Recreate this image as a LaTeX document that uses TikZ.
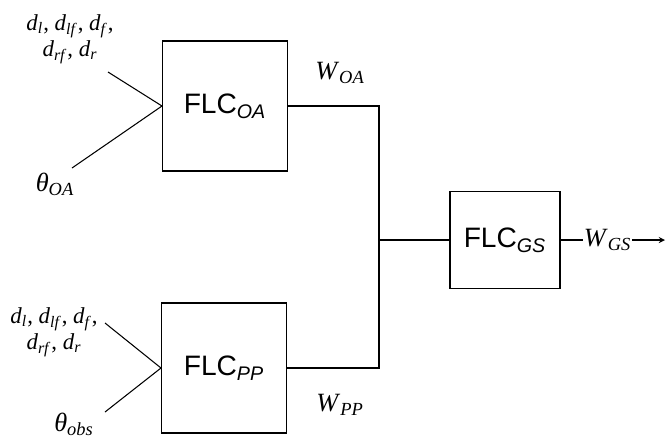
\documentclass[tikz,border=0pt]{standalone}
\usepackage{fontspec}
\setmainfont{Liberation Serif}
\newfontfamily\flcfont{Liberation Sans}
\usepackage{tikz}
\usetikzlibrary{positioning}
% italic symbol with italic subscript, Times style
\newcommand{\vsub}[2]{\textit{#1}\textsubscript{\textit{#2}}}
\newcommand{\flc}[1]{{\flcfont FLC\textsubscript{\itshape #1}}}

\begin{document}
\begin{tikzpicture}[x=0.02cm, y=-0.02cm, line width=0.6pt,
    block/.style={draw, minimum width=2.5cm, minimum height=2.6cm, font=\fontsize{16}{19}\selectfont},
    lbl/.style={font=\fontsize{13}{15}\selectfont, inner sep=1pt},
    sig/.style={font=\fontsize{15}{17}\selectfont, inner sep=1pt}]
      \useasboundingbox (0,0) rectangle (667,441);
      % fuzzy controllers
      \node[block] (oa) at (225,106) {\flc{OA}};
      \node[block] (pp) at (224,368) {\flc{PP}};
      \node[block, minimum width=2.2cm, minimum height=1.94cm] (gs) at (505,240) {\flc{GS}};
      % inputs of FLC_OA
      \node[lbl, align=center] (oadist) at (70,39) {\vsub{d}{l}, \vsub{d}{lf}, \vsub{d}{f},\\ \vsub{d}{rf}, \vsub{d}{r}};
      \node[sig] (oatheta) at (55,184) {\vsub{θ}{OA}};
      \coordinate (oain1) at (108,72);
      \coordinate (oain2) at (72,168);
      \draw (oain1) -- (oa.west);
      \draw (oain2) -- (oa.west);
      % inputs of FLC_PP
      \node[lbl, align=center] (ppdist) at (54,332) {\vsub{d}{l}, \vsub{d}{lf}, \vsub{d}{f},\\ \vsub{d}{rf}, \vsub{d}{r}};
      \node[sig] (pptheta) at (74,424) {\vsub{θ}{obs}};
      \coordinate (ppin1) at (105,323);
      \coordinate (ppin2) at (105,412);
      \draw (ppin1) -- (pp.west);
      \draw (ppin2) -- (pp.west);
      % outputs merged into FLC_GS
      \coordinate (bus) at (379,240);
      \draw (oa.east) -| (bus) |- (pp.east);
      \draw (bus) -- (gs.west);
      \node[sig] (woa) at (340,73) {\vsub{W}{OA}};
      \node[sig] (wpp) at (340,405) {\vsub{W}{PP}};
      % final output
      \coordinate (out) at (665,240);
      \draw[-stealth] (gs.east) -- (out) node[sig, pos=0.45, fill=white, inner sep=0.5pt] (wgs) {\vsub{W}{GS}};
\end{tikzpicture}
\end{document}
